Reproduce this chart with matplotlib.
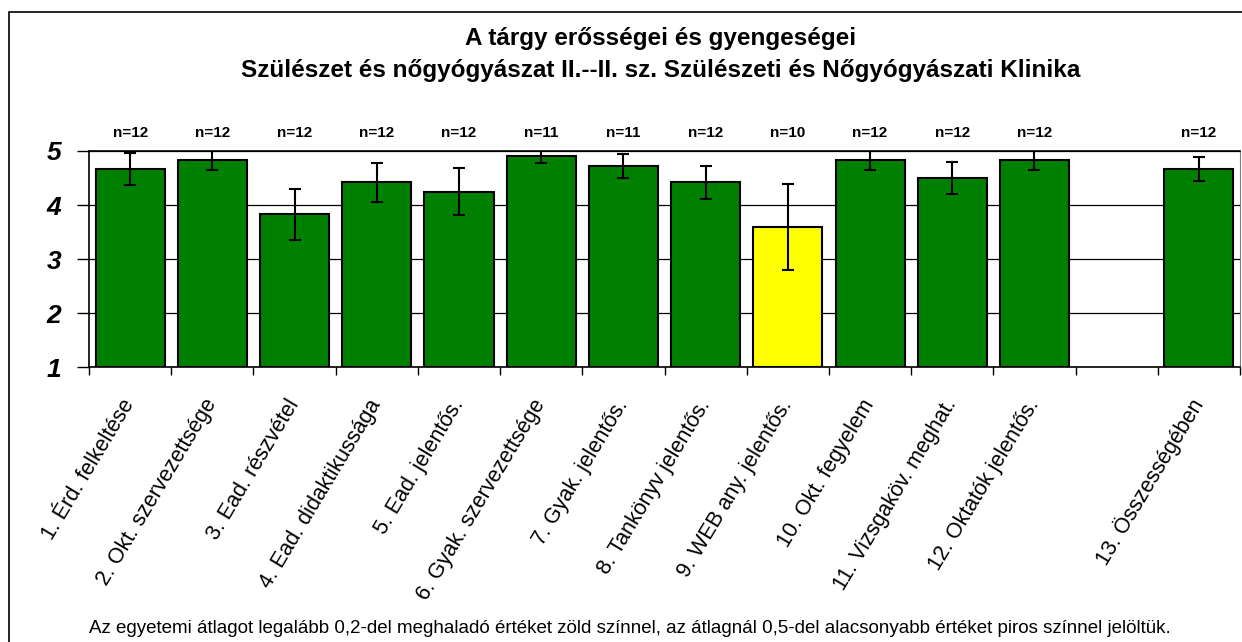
import matplotlib
import numpy as np

matplotlib.use("Agg")
import matplotlib.pyplot as plt
from matplotlib.patches import Rectangle

plt.rcParams["font.family"] = ["Liberation Sans", "DejaVu Sans"]

labels = [
    "1. Érd. felkeltése",
    "2. Okt. szervezettsége",
    "3. Ead. részvétel",
    "4. Ead. didaktikussága",
    "5. Ead. jelentős.",
    "6. Gyak. szervezettsége",
    "7. Gyak. jelentős.",
    "8. Tankönyv jelentős.",
    "9. WEB any. jelentős.",
    "10. Okt. fegyelem",
    "11. Vizsgaköv. meghat.",
    "12. Oktatók jelentős.",
    "",
    "13. Összességében",
]
means = [4.67, 4.83, 3.83, 4.42, 4.25, 4.91, 4.73, 4.42, 3.60, 4.83, 4.50, 4.83, np.nan, 4.67]
errors = [0.30, 0.18, 0.47, 0.36, 0.44, 0.14, 0.22, 0.31, 0.79, 0.18, 0.30, 0.18, np.nan, 0.22]
counts = [12, 12, 12, 12, 12, 11, 11, 12, 10, 12, 12, 12, None, 12]
colors = ["#008000"] * 8 + ["#FFFF00"] + ["#008000"] * 3 + ["white", "#008000"]

title_lines = ["A tárgy erősségei és gyengeségei",
               "Szülészet és nőgyógyászat II.--II. sz. Szülészeti és Nőgyógyászati Klinika"]
footer = ("Az egyetemi átlagot legalább 0,2-del meghaladó értéket zöld színnel, "
          "az átlagnál 0,5-del alacsonyabb értéket piros színnel jelöltük.")

fig = plt.figure(figsize=(12.42, 6.42), dpi=100)
ax = fig.add_axes([0.0717, 0.4276, 0.9267, 0.3372])

x = np.arange(len(labels))
heights = np.array(means) - 1
ax.bar(x, heights, bottom=1, width=0.84, color=colors, edgecolor="black", linewidth=1.5, zorder=3)
ax.errorbar(x, means, yerr=errors, fmt="none", ecolor="black", elinewidth=1.5,
            capsize=4.3, capthick=1.5, zorder=4)

for xi, n in zip(x, counts):
    if n is not None:
        ax.text(xi, 5.2, f"n={n}", ha="center", va="bottom", fontsize=11, fontweight="bold")

ax.set_xlim(-0.5, len(labels) - 0.5)
ax.set_ylim(1, 5)
ax.set_yticks([1, 2, 3, 4, 5])
ax.set_yticklabels(["1", "2", "3", "4", "5"], fontsize=19, fontweight="bold", fontstyle="italic")
ax.tick_params(axis="y", length=9, width=1, pad=11)
ax.yaxis.grid(True, color="black", linewidth=0.9, zorder=0)

ax.set_xticks(x)
ax.set_xticklabels(labels, rotation=59, ha="right", va="center", rotation_mode="anchor", fontsize=15.5)
ax.tick_params(axis="x", length=0, pad=24)
ax.set_xticks(np.arange(len(labels) + 1) - 0.5, minor=True)
ax.tick_params(axis="x", which="minor", length=6, width=1)

for side in ["left", "bottom", "top"]:
    ax.spines[side].set_linewidth(1.2)
ax.spines["right"].set_color("#808080")

fig.text(0.532, 1 - 45 / 642, title_lines[0], ha="center", va="baseline", fontsize=17.5, fontweight="bold")
fig.text(0.532, 1 - 77 / 642, title_lines[1], ha="center", va="baseline", fontsize=17.5, fontweight="bold")
fig.text(0.507, 1 - 633 / 642, footer, ha="center", va="baseline", fontsize=13.5)

fig.patches.append(Rectangle((9 / 1242, -0.01), 1.02, 1 - 12 / 642 + 0.01, transform=fig.transFigure,
                             fill=False, edgecolor="black", linewidth=1.2))

fig.savefig("out.png", dpi=100)
